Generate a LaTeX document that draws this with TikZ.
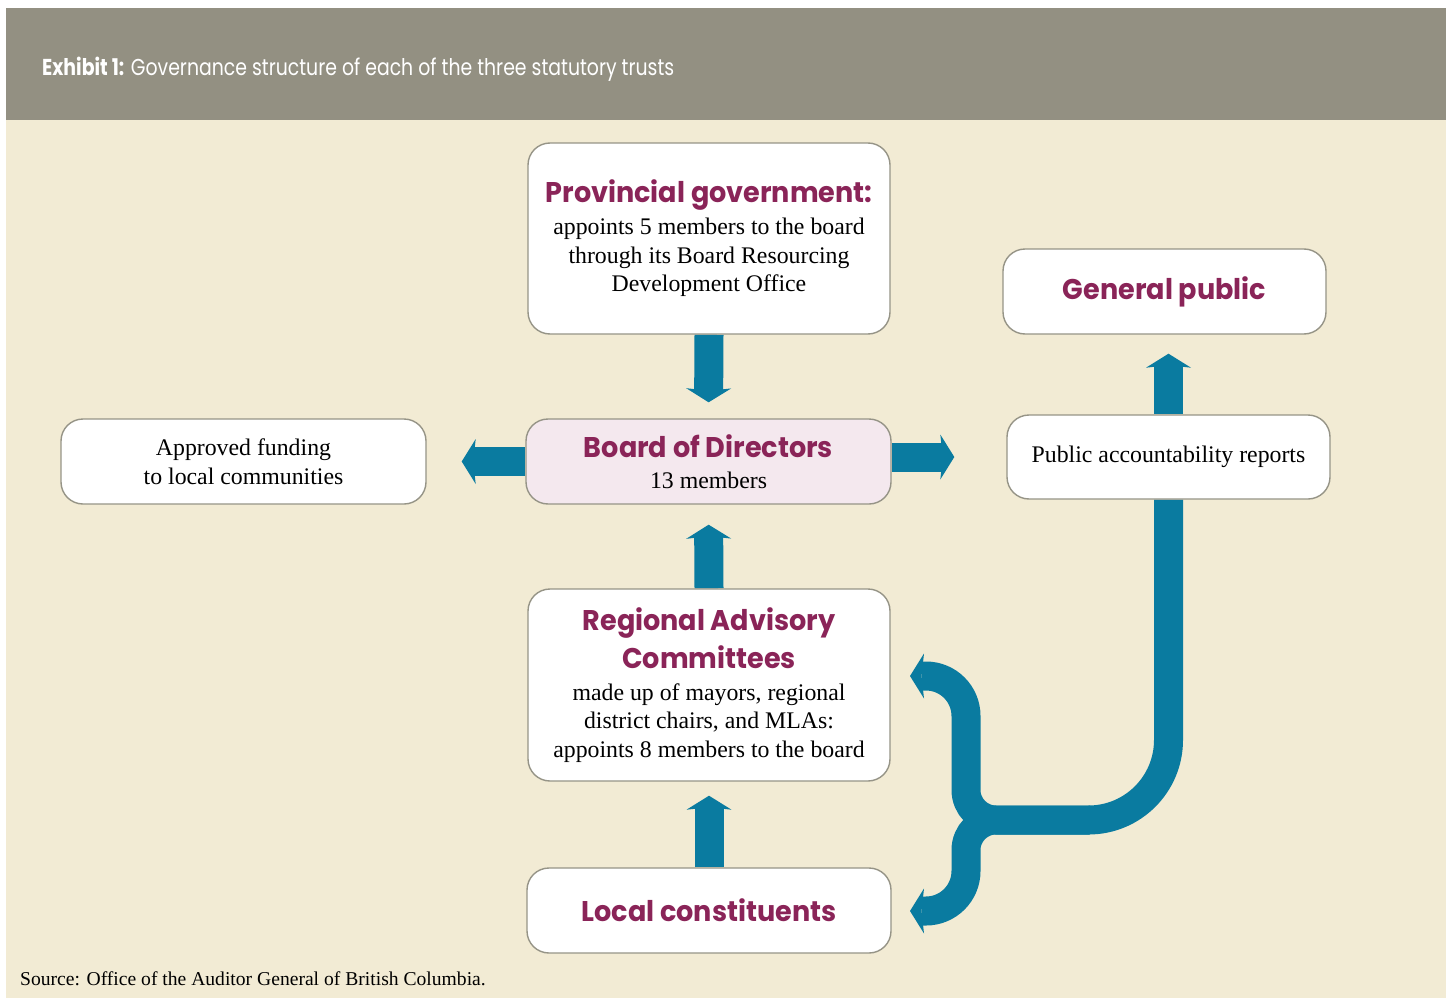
\documentclass[tikz,border=0pt]{standalone}
\usepackage{fontspec}
\setmainfont{Liberation Serif}
\newfontfamily\headfont{Poppins}[FakeStretch=0.95]
\newfontfamily\titlefont{Poppins}[FakeStretch=0.82]
\usetikzlibrary{arrows.meta,backgrounds}
\definecolor{hdrgray}{RGB}{147,144,130}
\definecolor{cream}{RGB}{242,235,212}
\definecolor{tealarr}{RGB}{10,123,160}
\definecolor{plum}{RGB}{138,36,88}
\definecolor{boardfill}{RGB}{244,232,238}
\definecolor{boxline}{RGB}{150,148,135}
\newcommand{\hd}[1]{{\headfont\bfseries\fontsize{28.5}{34}\selectfont\color{plum}#1}}
\tikzset{
  box/.style={draw=boxline, line width=1.4pt, rounded corners=22pt, fill=white,
    align=center, inner sep=0pt, font=\fontsize{23.8}{28.5}\selectfont},
  arr/.style={draw=tealarr, line width=29pt,
    -{Stealth[width=45pt,length=14pt,inset=2.5pt,line width=0pt]}}
}
\begin{document}
\begin{tikzpicture}[x=1pt,y=-1pt]
\useasboundingbox (0,0) rectangle (1449,998);
% nodes
\node[box, minimum width=362pt, minimum height=191pt] (prov) at (709,238.5)
  {\hd{Provincial government:}\\[3.5pt] appoints 5 members to the board\\ through its Board Resourcing\\ Development Office};
\node[box, minimum width=323pt, minimum height=85pt] (gp) at (1164.5,291.5) {\hd{General public}};
\node[box, minimum width=365pt, minimum height=85pt] (fund) at (243.5,461.5) {Approved funding\\ to local communities};
\node[box, fill=boardfill, minimum width=365pt, minimum height=85pt] (board) at (708.5,461.5)
  {\hd{Board of Directors}\\[3pt] 13 members};
\node[box, minimum width=323pt, minimum height=84pt] (pub) at (1168.5,457) {Public accountability reports};
\node[box, minimum width=362pt, minimum height=192pt] (reg) at (709,685)
  {\hd{Regional Advisory}\\[6.5pt] \hd{Committees}\\[3.5pt] made up of mayors, regional\\ district chairs, and MLAs:\\ appoints 8 members to the board};
\node[box, minimum width=364pt, minimum height=85pt] (loc) at (709,910.5) {\hd{Local constituents}};
\node[anchor=west, text=white, inner sep=0pt, font=\titlefont\fontsize{23}{27}\selectfont] (title) at (42,69)
  {{\bfseries Exhibit 1:} Governance structure of each of the three statutory trusts};
\node[anchor=base west, inner sep=0pt, font=\fontsize{19.6}{23}\selectfont] (src) at (20,985)
  {Source: Office of the Auditor General of British Columbia.};
\coordinate (ra) at (910,676);
\coordinate (la) at (910,911);
\begin{scope}[on background layer]
  \fill[white] (0,0) rectangle (1449,998);
  \fill[hdrgray] (6,8) rectangle (1446,120);
  \fill[cream] (6,120) rectangle (1446,998);
  \draw[arr, shorten >=16pt] (prov.south) -- (board.north);
  \draw[arr, shorten >=35pt] (board.west) -- (fund.east);
  \draw[arr, shorten >=52pt] (board.east |- pub.west) -- (pub.west);
  \draw[arr, shorten >=20pt] (reg.north) -- (board.south);
  \draw[arr, shorten >=14pt] (loc.north) -- (reg.south);
  \draw[arr, shorten >=19pt] (pub.north) -- (pub.north |- gp.south);
  \draw[arr] (pub.south) -- (1168.5,740) .. controls (1168.5,784.2) and (1132.7,820) .. (1088.5,820)
     -- (996,820) .. controls (979.4,820) and (966,806.6) .. (966,790)
     -- (966,716) .. controls (966,693.9) and (948.1,676) .. (926,676) -- (ra);
  \draw[arr] (1090,820) -- (996,820) .. controls (979.4,820) and (966,833.4) .. (966,850)
     -- (966,871) .. controls (966,893.1) and (948.1,911) .. (926,911) -- (la);
\end{scope}
\end{tikzpicture}
\end{document}
